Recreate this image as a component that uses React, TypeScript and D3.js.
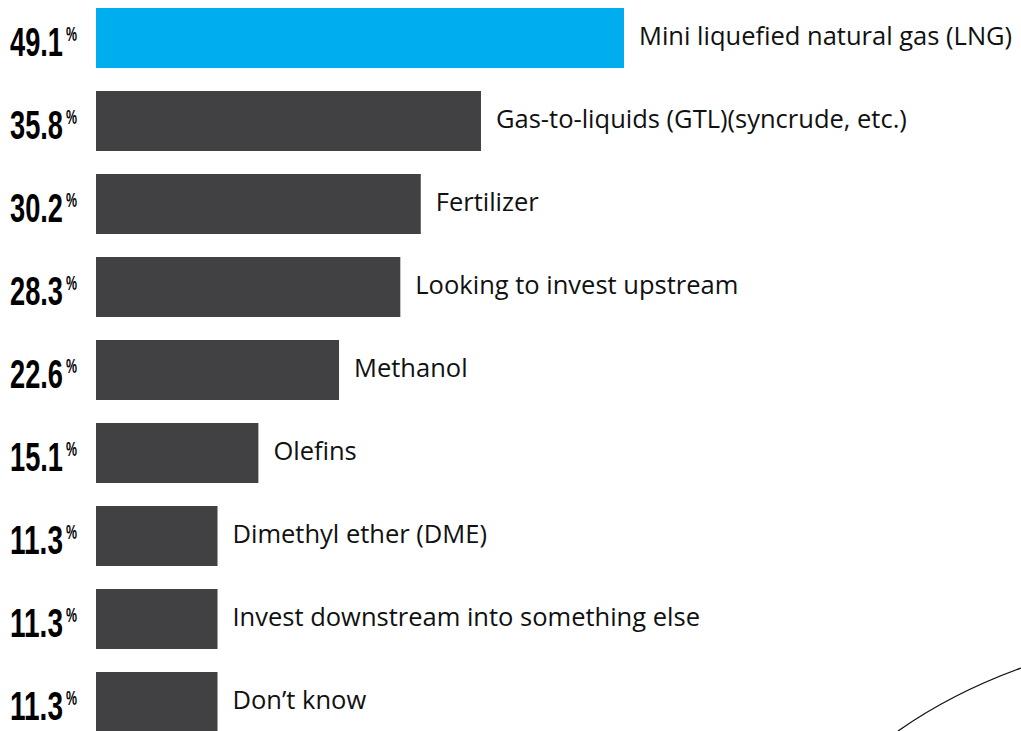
import React from "react";
import * as d3 from "d3";

const categories = [
  "Mini liquefied natural gas (LNG)",
  "Gas-to-liquids (GTL)(syncrude, etc.)",
  "Fertilizer",
  "Looking to invest upstream",
  "Methanol",
  "Olefins",
  "Dimethyl ether (DME)",
  "Invest downstream into something else",
  "Don\u2019t know",
];
const values = [49.1, 35.8, 30.2, 28.3, 22.6, 15.1, 11.3, 11.3, 11.3];
const valueLabels = ["49.1", "35.8", "30.2", "28.3", "22.6", "15.1", "11.3", "11.3", "11.3"];

const W = 1021;
const H = 731;

export default function App() {
  const x = d3.scaleLinear().domain([0, 49.1]).range([96, 624]);
  const y = d3
    .scaleBand<number>()
    .domain(d3.range(categories.length))
    .range([8, 8 + 83 * 9 - 23])
    .paddingInner(23 / 83)
    .paddingOuter(0);
  const curve = d3.path();
  curve.moveTo(898, 731);
  curve.quadraticCurveTo(952, 693, 1021, 668);

  return (
    <svg
      width={W}
      height={H}
      style={{ position: "absolute", left: 0, top: 0, background: "#fff" }}
    >
      {values.map((v, i) => {
        const y0 = y(i)!;
        const bh = y.bandwidth();
        const cy = y0 + bh / 2;
        return (
          <g key={i}>
            <rect
              x={x(0)}
              y={y0}
              width={x(v) - x(0)}
              height={bh}
              fill={i === 0 ? "#00AEEF" : "#414042"}
            />
            <text
              x={10}
              y={cy + 18}
              fontFamily="'Liberation Sans Narrow', 'Liberation Sans', sans-serif"
              fontWeight="bold"
              fontSize={40}
              fill="#000"
              textLength={53}
              lengthAdjust="spacingAndGlyphs"
            >
              {valueLabels[i]}
            </text>
            <text
              x={66}
              y={cy + 3}
              fontFamily="'Liberation Sans Narrow', 'Liberation Sans', sans-serif"
              fontWeight="bold"
              fontSize={21}
              fill="#000"
              textLength={11}
              lengthAdjust="spacingAndGlyphs"
            >
              %
            </text>
            <text
              x={x(v) + 15}
              y={cy + 6.5}
              fontFamily="'Open Sans', 'Noto Sans', sans-serif"
              fontSize={25.5}
              fill="#111"
            >
              {categories[i]}
            </text>
          </g>
        );
      })}
      <path d={curve.toString()} fill="none" stroke="#111" strokeWidth={1.3} />
    </svg>
  );
}
